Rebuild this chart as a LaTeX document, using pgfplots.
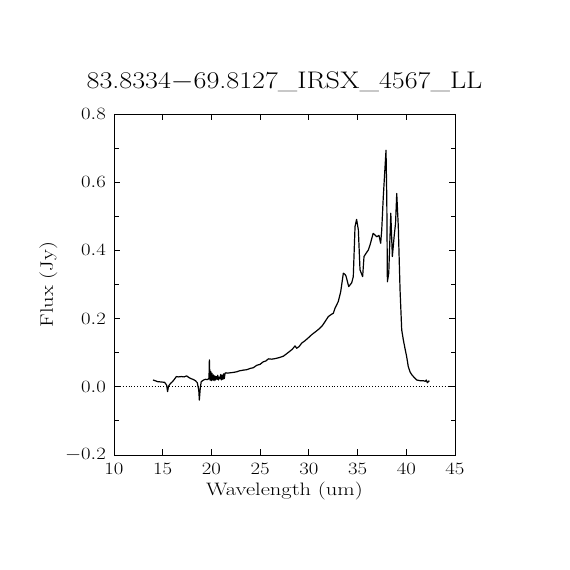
\documentclass[border=0pt]{standalone}
\usepackage{graphicx}
\usepackage{pgfplots}
\pgfplotsset{compat=1.18}
\begin{document}
\begin{tikzpicture}[x=1pt,y=1pt]
\path[use as bounding box] (0,0) rectangle (570,570);
\begin{axis}[
  at={(114pt,115pt)}, anchor=south west,
  scale only axis, width=341pt, height=341pt,
  xmin=10, xmax=45, ymin=-0.2, ymax=0.8,
  xtick={10,15,20,25,30,35,40,45},
  ytick={-0.2,0,0.2,0.4,0.6,0.8},
  minor ytick={-0.1,0.1,0.3,0.5,0.7},
  tick align=inside, xtick pos=both, ytick pos=both,
  major tick length=6pt, minor tick length=4.5pt,
  every tick/.style={black, line width=0.9pt},
  axis line style={line width=0.9pt},
  tick label style={font=\fontsize{16}{18}\selectfont, inner sep=0pt},
  yticklabel style={/pgf/number format/.cd, fixed, fixed zerofill, precision=1, /tikz/.cd, xshift=-8pt},
  xticklabel style={yshift=-8pt},
  xticklabel={\scalebox{1.2}[1]{$\pgfmathprintnumber{\tick}$}},
  yticklabel={\scalebox{1.2}[1]{$\pgfmathprintnumber{\tick}$}},
  clip=false,
]
\addplot[black, dotted, line width=0.9pt] coordinates {(10,0) (45,0)};
\addplot[black, line width=1.2pt, line join=round] coordinates {
(14.0,0.020) (14.2,0.018) (14.5,0.015) (14.9,0.014) (15.2,0.013) (15.4,0.005)
(15.5,-0.014) (15.6,0.002) (15.8,0.010) (16.0,0.015) (16.2,0.022) (16.4,0.030)
(16.6,0.029) (16.9,0.030) (17.2,0.029) (17.45,0.032) (17.7,0.027) (17.9,0.024)
(18.1,0.022) (18.35,0.018) (18.55,0.012) (18.7,-0.010) (18.76,-0.039) (18.85,-0.005)
(18.95,0.015) (19.2,0.020) (19.4,0.022) (19.6,0.021) (19.75,0.025) (19.79,0.079)
(19.85,0.020) (19.92,0.045) (19.98,0.018) (20.05,0.040) (20.12,0.020) (20.2,0.035)
(20.27,0.018) (20.35,0.032) (20.42,0.020) (20.5,0.030) (20.58,0.022) (20.65,0.034)
(20.72,0.020) (20.8,0.028) (20.88,0.024) (20.95,0.036) (21.02,0.020) (21.1,0.034)
(21.18,0.022) (21.25,0.038) (21.32,0.024) (21.4,0.040) (21.5,0.041) (21.6,0.040)
(21.9,0.041) (22.2,0.042) (22.6,0.044) (22.9,0.047) (23.3,0.049) (23.6,0.050)
(24.0,0.054) (24.3,0.056) (24.65,0.063) (25.0,0.066) (25.3,0.073) (25.6,0.076)
(25.85,0.082) (26.2,0.081) (26.6,0.083) (27.0,0.086) (27.4,0.090) (27.9,0.101)
(28.3,0.110) (28.58,0.120) (28.75,0.113) (29.0,0.118) (29.26,0.128) (29.6,0.135)
(30.0,0.145) (30.3,0.153) (30.8,0.164) (31.14,0.172) (31.4,0.180) (31.66,0.191)
(32.0,0.206) (32.34,0.213) (32.5,0.215) (32.68,0.230) (33.02,0.250) (33.27,0.279)
(33.54,0.333) (33.7,0.330) (33.81,0.325) (34.09,0.294) (34.4,0.305) (34.56,0.323)
(34.74,0.470) (34.9,0.491) (35.08,0.460) (35.25,0.343) (35.52,0.323) (35.66,0.382)
(35.86,0.391) (36.1,0.401) (36.28,0.416) (36.6,0.450) (36.8,0.445) (36.96,0.440)
(37.2,0.444) (37.37,0.421) (37.48,0.460) (37.64,0.557) (37.92,0.694) (38.0,0.550)
(38.06,0.308) (38.2,0.333) (38.41,0.509) (38.57,0.382) (38.75,0.440) (38.9,0.480)
(39.02,0.567) (39.18,0.470) (39.36,0.284) (39.53,0.167) (39.7,0.137) (39.85,0.115)
(40.04,0.088) (40.2,0.060) (40.38,0.044) (40.55,0.036) (40.73,0.030) (41.07,0.020)
(41.4,0.018) (41.75,0.018) (41.95,0.016) (42.05,0.020) (42.16,0.012) (42.37,0.018)
};
\node[anchor=base, font=\fontsize{24}{28}\selectfont] at ([yshift=25pt]rel axis cs:0.5,1) {\scalebox{1.17}[1]{83.8334$-$69.8127\_IRSX\_4567\_LL}};
\node[anchor=base, font=\fontsize{18}{21}\selectfont] at ([yshift=-41pt]rel axis cs:0.5,0) {\scalebox{1.25}[1]{Wavelength (um)}};
\node[anchor=base, rotate=90, font=\fontsize{18}{21}\selectfont] at ([xshift=-61pt]rel axis cs:0,0.5) {\scalebox{1.25}[1]{Flux (Jy)}};
\end{axis}
\end{tikzpicture}
\end{document}
